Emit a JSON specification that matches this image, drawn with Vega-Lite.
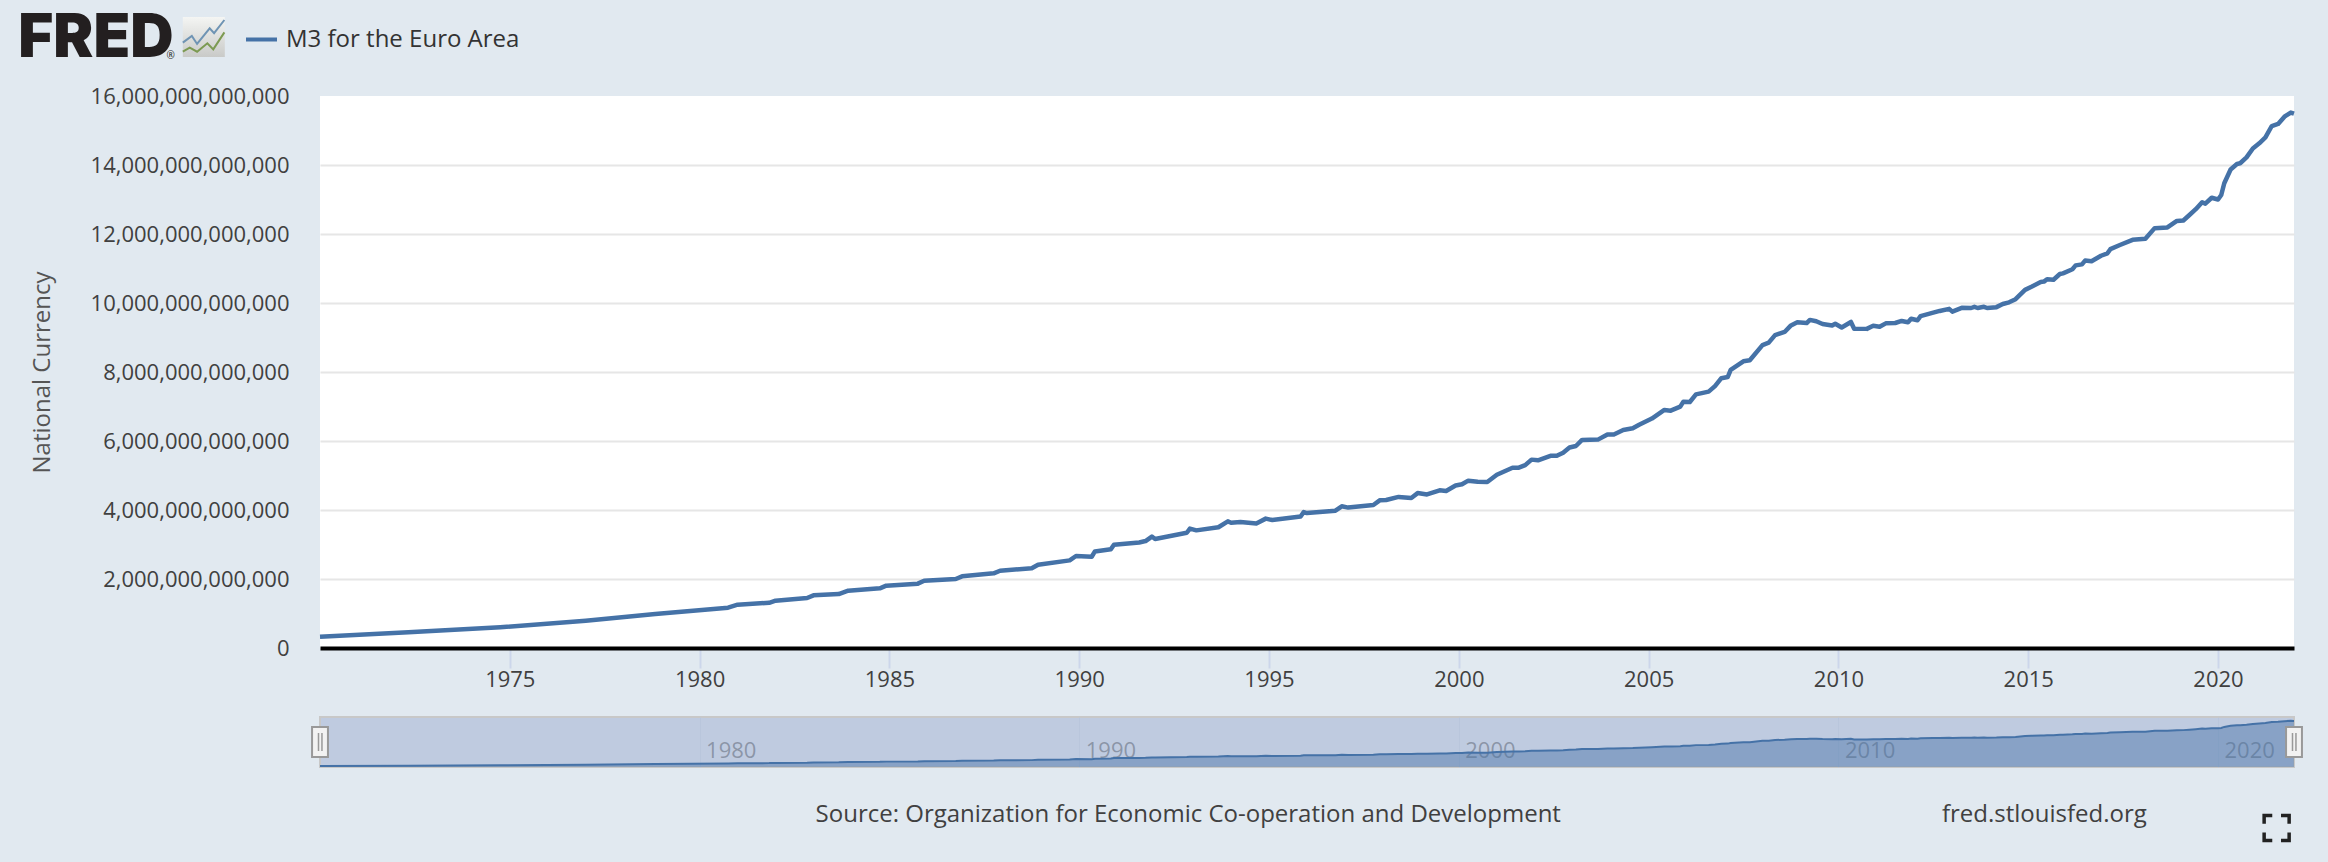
{
"$schema":"https://vega.github.io/schema/vega-lite/v6.json",
"background":"#e1e9f0",
"padding":{"left":18,"top":0,"right":34,"bottom":0},
"config":{"view":{"stroke":null},"font":"Open Sans","text":{"font":"Open Sans"}},
"datasets":{"m3":[
{"date":"1970-01-01","value":328000000000},{"date":"1972-05-01","value":455000000000},{"date":"1974-10-01","value":600000000000},{"date":"1977-01-01","value":790000000000},{"date":"1978-11-01","value":985000000000},{"date":"1980-10-01","value":1170000000000},{"date":"1981-01-01","value":1255000000000},{"date":"1981-11-01","value":1310000000000},{"date":"1982-01-01","value":1370000000000},{"date":"1982-11-01","value":1450000000000},{"date":"1983-01-01","value":1527000000000},{"date":"1983-09-01","value":1565000000000},{"date":"1983-12-01","value":1660000000000},{"date":"1984-10-01","value":1730000000000},{"date":"1984-12-01","value":1806000000000},{"date":"1985-10-01","value":1865000000000},{"date":"1985-12-01","value":1950000000000},{"date":"1986-10-01","value":2000000000000},{"date":"1986-12-01","value":2077000000000},{"date":"1987-10-01","value":2164000000000},{"date":"1987-12-01","value":2240000000000},{"date":"1988-10-01","value":2310000000000},{"date":"1988-12-01","value":2415000000000},{"date":"1989-10-01","value":2540000000000},{"date":"1989-12-01","value":2667000000000},{"date":"1990-05-01","value":2646000000000},{"date":"1990-06-01","value":2800000000000},{"date":"1990-11-01","value":2860000000000},{"date":"1990-12-01","value":2995000000000},{"date":"1991-08-01","value":3060000000000},{"date":"1991-10-01","value":3100000000000},{"date":"1991-12-01","value":3230000000000},{"date":"1992-01-01","value":3160000000000},{"date":"1992-11-01","value":3340000000000},{"date":"1992-12-01","value":3460000000000},{"date":"1993-02-01","value":3410000000000},{"date":"1993-09-01","value":3500000000000},{"date":"1993-12-01","value":3670000000000},{"date":"1994-01-01","value":3630000000000},{"date":"1994-04-01","value":3650000000000},{"date":"1994-09-01","value":3610000000000},{"date":"1994-12-01","value":3750000000000},{"date":"1995-02-01","value":3710000000000},{"date":"1995-11-01","value":3810000000000},{"date":"1995-12-01","value":3940000000000},{"date":"1996-01-01","value":3910000000000},{"date":"1996-10-01","value":3980000000000},{"date":"1996-12-01","value":4107000000000},{"date":"1997-02-01","value":4070000000000},{"date":"1997-10-01","value":4145000000000},{"date":"1997-12-01","value":4280000000000},{"date":"1998-02-01","value":4290000000000},{"date":"1998-06-01","value":4380000000000},{"date":"1998-10-01","value":4350000000000},{"date":"1998-12-01","value":4490000000000},{"date":"1999-03-01","value":4450000000000},{"date":"1999-07-01","value":4570000000000},{"date":"1999-09-01","value":4550000000000},{"date":"1999-12-01","value":4710000000000},{"date":"2000-02-01","value":4745000000000},{"date":"2000-04-01","value":4850000000000},{"date":"2000-07-01","value":4820000000000},{"date":"2000-10-01","value":4810000000000},{"date":"2001-01-01","value":5020000000000},{"date":"2001-06-01","value":5226000000000},{"date":"2001-08-01","value":5226000000000},{"date":"2001-10-01","value":5300000000000},{"date":"2001-12-01","value":5460000000000},{"date":"2002-02-01","value":5440000000000},{"date":"2002-06-01","value":5570000000000},{"date":"2002-08-01","value":5570000000000},{"date":"2002-10-01","value":5660000000000},{"date":"2002-12-01","value":5810000000000},{"date":"2003-02-01","value":5855000000000},{"date":"2003-04-01","value":6030000000000},{"date":"2003-09-01","value":6040000000000},{"date":"2003-12-01","value":6190000000000},{"date":"2004-02-01","value":6190000000000},{"date":"2004-05-01","value":6320000000000},{"date":"2004-08-01","value":6370000000000},{"date":"2004-10-01","value":6470000000000},{"date":"2005-02-01","value":6650000000000},{"date":"2005-06-01","value":6900000000000},{"date":"2005-08-01","value":6880000000000},{"date":"2005-11-01","value":6995000000000},{"date":"2005-12-01","value":7140000000000},{"date":"2006-02-01","value":7130000000000},{"date":"2006-04-01","value":7350000000000},{"date":"2006-08-01","value":7430000000000},{"date":"2006-10-01","value":7590000000000},{"date":"2006-12-01","value":7820000000000},{"date":"2007-02-01","value":7855000000000},{"date":"2007-03-01","value":8060000000000},{"date":"2007-07-01","value":8310000000000},{"date":"2007-09-01","value":8340000000000},{"date":"2008-01-01","value":8780000000000},{"date":"2008-03-01","value":8850000000000},{"date":"2008-05-01","value":9070000000000},{"date":"2008-08-01","value":9160000000000},{"date":"2008-10-01","value":9350000000000},{"date":"2008-12-01","value":9440000000000},{"date":"2009-03-01","value":9420000000000},{"date":"2009-04-01","value":9510000000000},{"date":"2009-06-01","value":9470000000000},{"date":"2009-08-01","value":9390000000000},{"date":"2009-11-01","value":9350000000000},{"date":"2009-12-01","value":9400000000000},{"date":"2010-02-01","value":9290000000000},{"date":"2010-05-01","value":9450000000000},{"date":"2010-06-01","value":9255000000000},{"date":"2010-10-01","value":9250000000000},{"date":"2010-12-01","value":9340000000000},{"date":"2011-02-01","value":9310000000000},{"date":"2011-04-01","value":9410000000000},{"date":"2011-07-01","value":9420000000000},{"date":"2011-09-01","value":9480000000000},{"date":"2011-11-01","value":9440000000000},{"date":"2011-12-01","value":9545000000000},{"date":"2012-02-01","value":9500000000000},{"date":"2012-03-01","value":9620000000000},{"date":"2012-07-01","value":9720000000000},{"date":"2012-09-01","value":9770000000000},{"date":"2012-12-01","value":9830000000000},{"date":"2013-01-01","value":9750000000000},{"date":"2013-04-01","value":9860000000000},{"date":"2013-07-01","value":9855000000000},{"date":"2013-08-01","value":9890000000000},{"date":"2013-09-01","value":9855000000000},{"date":"2013-11-01","value":9890000000000},{"date":"2013-12-01","value":9855000000000},{"date":"2014-03-01","value":9880000000000},{"date":"2014-05-01","value":9970000000000},{"date":"2014-07-01","value":10020000000000},{"date":"2014-09-01","value":10110000000000},{"date":"2014-12-01","value":10380000000000},{"date":"2015-02-01","value":10470000000000},{"date":"2015-05-01","value":10610000000000},{"date":"2015-06-01","value":10620000000000},{"date":"2015-07-01","value":10690000000000},{"date":"2015-09-01","value":10675000000000},{"date":"2015-11-01","value":10840000000000},{"date":"2015-12-01","value":10860000000000},{"date":"2016-03-01","value":10980000000000},{"date":"2016-04-01","value":11090000000000},{"date":"2016-06-01","value":11120000000000},{"date":"2016-07-01","value":11230000000000},{"date":"2016-09-01","value":11210000000000},{"date":"2016-12-01","value":11370000000000},{"date":"2017-02-01","value":11440000000000},{"date":"2017-03-01","value":11560000000000},{"date":"2017-06-01","value":11680000000000},{"date":"2017-10-01","value":11830000000000},{"date":"2018-02-01","value":11860000000000},{"date":"2018-05-01","value":12170000000000},{"date":"2018-09-01","value":12190000000000},{"date":"2018-12-01","value":12380000000000},{"date":"2019-02-01","value":12390000000000},{"date":"2019-04-01","value":12550000000000},{"date":"2019-06-01","value":12720000000000},{"date":"2019-08-01","value":12920000000000},{"date":"2019-09-01","value":12880000000000},{"date":"2019-11-01","value":13050000000000},{"date":"2020-01-01","value":13000000000000},{"date":"2020-02-01","value":13130000000000},{"date":"2020-03-01","value":13470000000000},{"date":"2020-05-01","value":13870000000000},{"date":"2020-07-01","value":14030000000000},{"date":"2020-08-01","value":14050000000000},{"date":"2020-10-01","value":14220000000000},{"date":"2020-12-01","value":14480000000000},{"date":"2021-02-01","value":14630000000000},{"date":"2021-04-01","value":14800000000000},{"date":"2021-06-01","value":15130000000000},{"date":"2021-08-01","value":15190000000000},{"date":"2021-10-01","value":15400000000000},{"date":"2021-12-01","value":15520000000000},{"date":"2022-01-01","value":15490000000000}
]},
"spacing":69,
"bounds":"flush",
"vconcat":[
{
"width":1974,"height":27,
"layer":[
{"data":{"values":[{"date":"1962-01-20","label":"FRED"}]},"mark":{"type":"text","align":"left","baseline":"middle","font":"Inter","fontWeight":900,"fontSize":60,"color":"#231f20","dy":25},"encoding":{"x":{"field":"date","type":"temporal","axis":null,"scale":{"type":"utc","domain":[{"year":1970,"utc":true},{"year":2022,"utc":true}]}},"text":{"field":"label"}}},
{"data":{"values":[{"date":"1966-01-25","label":"®"}]},"mark":{"type":"text","align":"center","baseline":"middle","fontSize":10,"color":"#231f20","dy":42},"encoding":{"x":{"field":"date","type":"temporal","axis":null},"text":{"field":"label"}}},
{"data":{"values":[{"date":"1966-12-10","part":"icon"}]},"mark":{"type":"point","filled":true,"shape":"M-1,-.95 H1 V.95 H-1 Z","size":1764,"opacity":1,"fill":{"gradient":"linear","x1":0,"y1":0,"x2":0,"y2":1,"stops":[{"offset":0,"color":"#f4f5f3"},{"offset":1,"color":"#c9cac8"}]},"strokeWidth":0,"yOffset":23.5},"encoding":{"x":{"field":"date","type":"temporal","axis":null}}},
{"data":{"values":[{"date":"1966-12-10","part":"blue"}]},"mark":{"type":"point","shape":"M-1,.27 L-.57,-.05 L-.32,.33 L.28,-.41 L.49,-.18 L.98,-.81","size":1764,"opacity":1,"fill":null,"stroke":"#6f94b4","strokeWidth":2,"yOffset":23.5},"encoding":{"x":{"field":"date","type":"temporal","axis":null}}},
{"data":{"values":[{"date":"1966-12-10","part":"green"}]},"mark":{"type":"point","shape":"M-1,.7 L-.67,.51 L-.32,.7 L.17,.3 L.45,.59 L.98,-.22","size":1764,"opacity":1,"fill":null,"stroke":"#7c9a52","strokeWidth":2,"yOffset":23.5},"encoding":{"x":{"field":"date","type":"temporal","axis":null}}}
]
},
{
"width":1974,"height":552,
"view":{"fill":"#ffffff","stroke":null},
"data":{"name":"m3"},
"mark":{"type":"line","strokeWidth":4.5,"strokeJoin":"round","clip":false},
"encoding":{
"x":{"field":"date","type":"temporal","title":null,"scale":{"type":"utc","domain":[{"year":1970,"utc":true},{"year":2022,"utc":true}]},
"axis":{"values":[{"year":1975,"utc":true},{"year":1980,"utc":true},{"year":1985,"utc":true},{"year":1990,"utc":true},{"year":1995,"utc":true},{"year":2000,"utc":true},{"year":2005,"utc":true},{"year":2010,"utc":true},{"year":2015,"utc":true},{"year":2020,"utc":true}],"format":"%Y","formatType":"utc","grid":false,"domainColor":"#000000","domainWidth":4,"tickColor":"#ccd6eb","tickWidth":2,"tickSize":20,"labelFontSize":22,"labelColor":"#404040","labelPadding":1,"labelFlush":false,"labelOverlap":false,"labelFont":"Open Sans"}},
"y":{"field":"value","type":"quantitative","title":"National Currency","scale":{"domain":[0,16000000000000],"nice":false},
"axis":{"values":[0,2000000000000,4000000000000,6000000000000,8000000000000,10000000000000,12000000000000,14000000000000,16000000000000],"format":",d","domain":false,"ticks":false,"labelPadding":31,"labelLimit":300,"labelFontSize":22,"labelColor":"#404040","labelFont":"Open Sans","labelOverlap":false,"gridColor":"#e6e6e6","gridWidth":2,"gridOpacity":{"condition":{"test":"datum.value >= 16000000000000","value":0},"value":1},"titleFont":"Open Sans","titleFontSize":24,"titleFontWeight":"normal","titleColor":"#555555","titlePadding":66}},
"color":{"datum":"M3 for the Euro Area","scale":{"range":["#4572a7"]},"legend":{"title":null,"orient":"none","legendX":-76,"legendY":22,"symbolType":"stroke","symbolSize":961,"symbolStrokeWidth":4,"labelFontSize":24,"labelColor":"#333333","labelFont":"Open Sans","labelOffset":7,"labelLimit":400,"padding":0}}
}
},
{
"width":1974,"height":50,
"view":{"fill":"#bfcbe0","stroke":"#c8c8c8","strokeWidth":2},
"layer":[
{"data":{"name":"m3"},"mark":{"type":"area","color":"#4572a7","opacity":0.45,"line":false},"encoding":{
"x":{"field":"date","type":"temporal","title":null,"scale":{"type":"utc","domain":[{"year":1970,"utc":true},{"year":2022,"utc":true}]},
"axis":{"values":[{"year":1980,"utc":true},{"year":1990,"utc":true},{"year":2000,"utc":true},{"year":2010,"utc":true},{"year":2020,"utc":true}],"format":"%Y","formatType":"utc","domain":false,"ticks":false,"grid":true,"gridColor":"#b9c6dc","gridWidth":1,"labelAlign":"left","labelBaseline":"middle","labelOffset":6,"labelPadding":-17,"labelFontSize":22,"labelColor":"#7a8494","labelOpacity":0.75,"labelFlush":false,"labelOverlap":false,"labelFont":"Open Sans"}},
"y":{"field":"value","type":"quantitative","axis":null,"scale":{"domain":[0,16800000000000],"nice":false}}
}},
{"data":{"name":"m3"},"mark":{"type":"line","color":"#4572a7","strokeWidth":2},"encoding":{
"x":{"field":"date","type":"temporal"},
"y":{"field":"value","type":"quantitative"}
}},
{"data":{"values":[{"date":"1970-01-01"},{"date":"2022-01-01"}]},"mark":{"type":"point","shape":"M-.53,-1 H.53 V1 H-.53 Z","size":900,"opacity":1,"fill":"#f2f2f2","stroke":"#999999","strokeWidth":2,"clip":false},"encoding":{"x":{"field":"date","type":"temporal"}}},
{"data":{"values":[{"date":"1970-01-01"},{"date":"2022-01-01"}]},"mark":{"type":"point","shape":"M-.1,-.6 V.6 M.13,-.6 V.6","size":900,"opacity":1,"fill":null,"stroke":"#999999","strokeWidth":1.5,"clip":false},"encoding":{"x":{"field":"date","type":"temporal"}}}
]
},
{
"width":1974,"height":26,
"layer":[
{"data":{"values":[{"date":"1992-11-15","label":"Source: Organization for Economic Co-operation and Development"},{"date":"2015-06-05","label":"fred.stlouisfed.org"}]},"mark":{"type":"text","align":"center","baseline":"middle","fontSize":24,"color":"#404040","dy":-34},"encoding":{"x":{"field":"date","type":"temporal","axis":null,"scale":{"type":"utc","domain":[{"year":1970,"utc":true},{"year":2022,"utc":true}]}},"text":{"field":"label"}}},
{"data":{"values":[{"date":"2021-07-18"}]},"mark":{"type":"point","shape":"M-1,-.35 V-1 H-.35 M.35,-1 H1 V-.35 M1,.35 V1 H.35 M-.35,1 H-1 V.35","size":625,"opacity":1,"fill":null,"stroke":"#222222","strokeWidth":3.5,"yOffset":-21},"encoding":{"x":{"field":"date","type":"temporal","axis":null}}}
]
}
]
}
